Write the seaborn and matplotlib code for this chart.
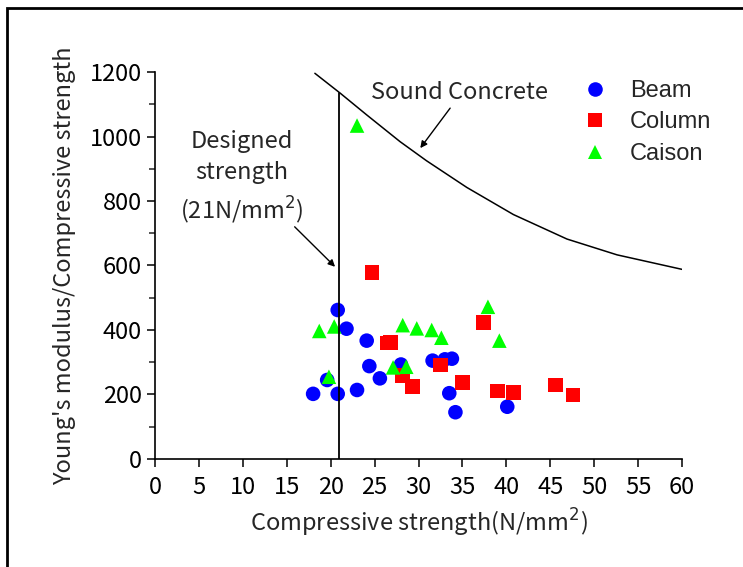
import pandas as pd
import matplotlib
matplotlib.use("Agg")
import matplotlib.pyplot as plt
import seaborn as sns
from matplotlib.patches import Rectangle

# compressive strength (N/mm2) and Young's modulus / compressive strength
beam_x = [20.8, 21.8, 19.6, 18.0, 20.8, 23.0, 24.1, 24.4, 25.6, 28.0, 31.6, 33.0, 33.8, 33.5, 34.2, 40.1]
beam_y = [462, 404, 245, 202, 202, 214, 367, 288, 250, 293, 305, 309, 311, 204, 145, 162]

column_x = [24.7, 26.4, 26.8, 37.4, 28.2, 29.3, 32.5, 35.0, 39.0, 40.8, 45.6, 47.6]
column_y = [578, 359, 361, 423, 259, 224, 291, 237, 211, 206, 229, 198]

caison_x = [23.0, 20.4, 18.7, 19.8, 28.2, 29.8, 31.5, 32.6, 37.9, 39.2, 27.1, 28.6]
caison_y = [1034, 411, 397, 255, 415, 405, 400, 376, 472, 367, 284, 286]

# "Sound Concrete" reference curve
sound_x = [18.2, 21.1, 24.1, 27.9, 30.9, 35.5, 40.8, 46.9, 52.6, 60.0]
sound_y = [1196, 1134, 1067, 984, 925, 842, 758, 682, 633, 588]

DESIGNED_STRENGTH = 21
GROUPS = ["Beam", "Column", "Caison"]
COLORS = {"Beam": "#0000ff", "Column": "#ff0000", "Caison": "#00ff00"}
MARKERS = {"Beam": "o", "Column": "s", "Caison": "^"}

TEXT_FONT = ["Noto Sans CJK JP", "DejaVu Sans"]
LEGEND_FONT = "Liberation Sans"


def build_frame():
    parts = []
    for name, xs, ys in [("Beam", beam_x, beam_y), ("Column", column_x, column_y), ("Caison", caison_x, caison_y)]:
        parts.append(pd.DataFrame({"strength": xs, "ratio": ys, "member": name}))
    return pd.concat(parts, ignore_index=True)


def arrow(ax, start, end):
    ax.annotate("", xy=end, xytext=start,
                arrowprops=dict(arrowstyle="-|>", color="black", lw=1.0, mutation_scale=10,
                                shrinkA=0, shrinkB=0))


def main():
    sns.set_style("ticks")
    plt.rcParams["font.family"] = TEXT_FONT

    df = build_frame()

    fig = plt.figure(figsize=(7.43, 5.67), dpi=100)
    ax = fig.add_axes([0.2086, 0.1905, 0.7094, 0.6825])

    sns.scatterplot(data=df, x="strength", y="ratio", hue="member", style="member",
                    hue_order=GROUPS, style_order=GROUPS, palette=COLORS, markers=MARKERS,
                    s=110, linewidth=0, ax=ax, zorder=3)

    ax.plot(sound_x, sound_y, color="black", lw=1.1, zorder=2)
    ax.plot([DESIGNED_STRENGTH, DESIGNED_STRENGTH], [0, 1134], color="black", lw=1.3, zorder=4)

    ax.text(34.7, 1135, "Sound Concrete", fontsize=17, ha="center", va="center")
    arrow(ax, (33.6, 1088), (30.2, 964))

    ax.text(9.9, 872, "Designed\nstrength\n(21N/mm$^2$)", fontsize=17, ha="center", va="center",
            linespacing=1.45)
    arrow(ax, (15.9, 720), (20.5, 596))

    ax.set_xlim(0, 60)
    ax.set_ylim(0, 1200)
    ax.set_xticks(range(0, 61, 5))
    ax.set_yticks(range(0, 1201, 200))
    ax.set_yticks(range(100, 1200, 200), minor=True)
    ax.tick_params(axis="both", which="major", direction="out", length=6, width=1.1,
                   labelsize=17, colors="black")
    ax.tick_params(axis="x", which="major", pad=6)
    ax.tick_params(axis="y", which="minor", direction="out", length=4, width=1.1)
    for side in ["top", "right"]:
        ax.spines[side].set_visible(False)
    for side in ["left", "bottom"]:
        ax.spines[side].set_linewidth(1.2)
        ax.spines[side].set_color("black")

    ax.set_xlabel("Compressive strength(N/mm$^2$)", fontsize=17, labelpad=6)
    ax.set_ylabel("Young's modulus/Compressive strength", fontsize=17, labelpad=10)

    handles, labels = ax.get_legend_handles_labels()
    leg = ax.legend(handles, labels, loc="upper left", bbox_to_anchor=(0.773, 1.004),
                    frameon=False, fontsize=17,
                    handletextpad=0.45, labelspacing=0.4, borderaxespad=0)
    for t in leg.get_texts():
        t.set_fontfamily(LEGEND_FONT)

    fig.patches.append(Rectangle((7 / 743, -0.02), 1.1, 1 - 8 / 567 + 0.02,
                                 transform=fig.transFigure, fill=False,
                                 edgecolor="black", lw=2, zorder=0))

    fig.savefig("out.png", dpi=100, facecolor="white")


if __name__ == "__main__":
    main()
